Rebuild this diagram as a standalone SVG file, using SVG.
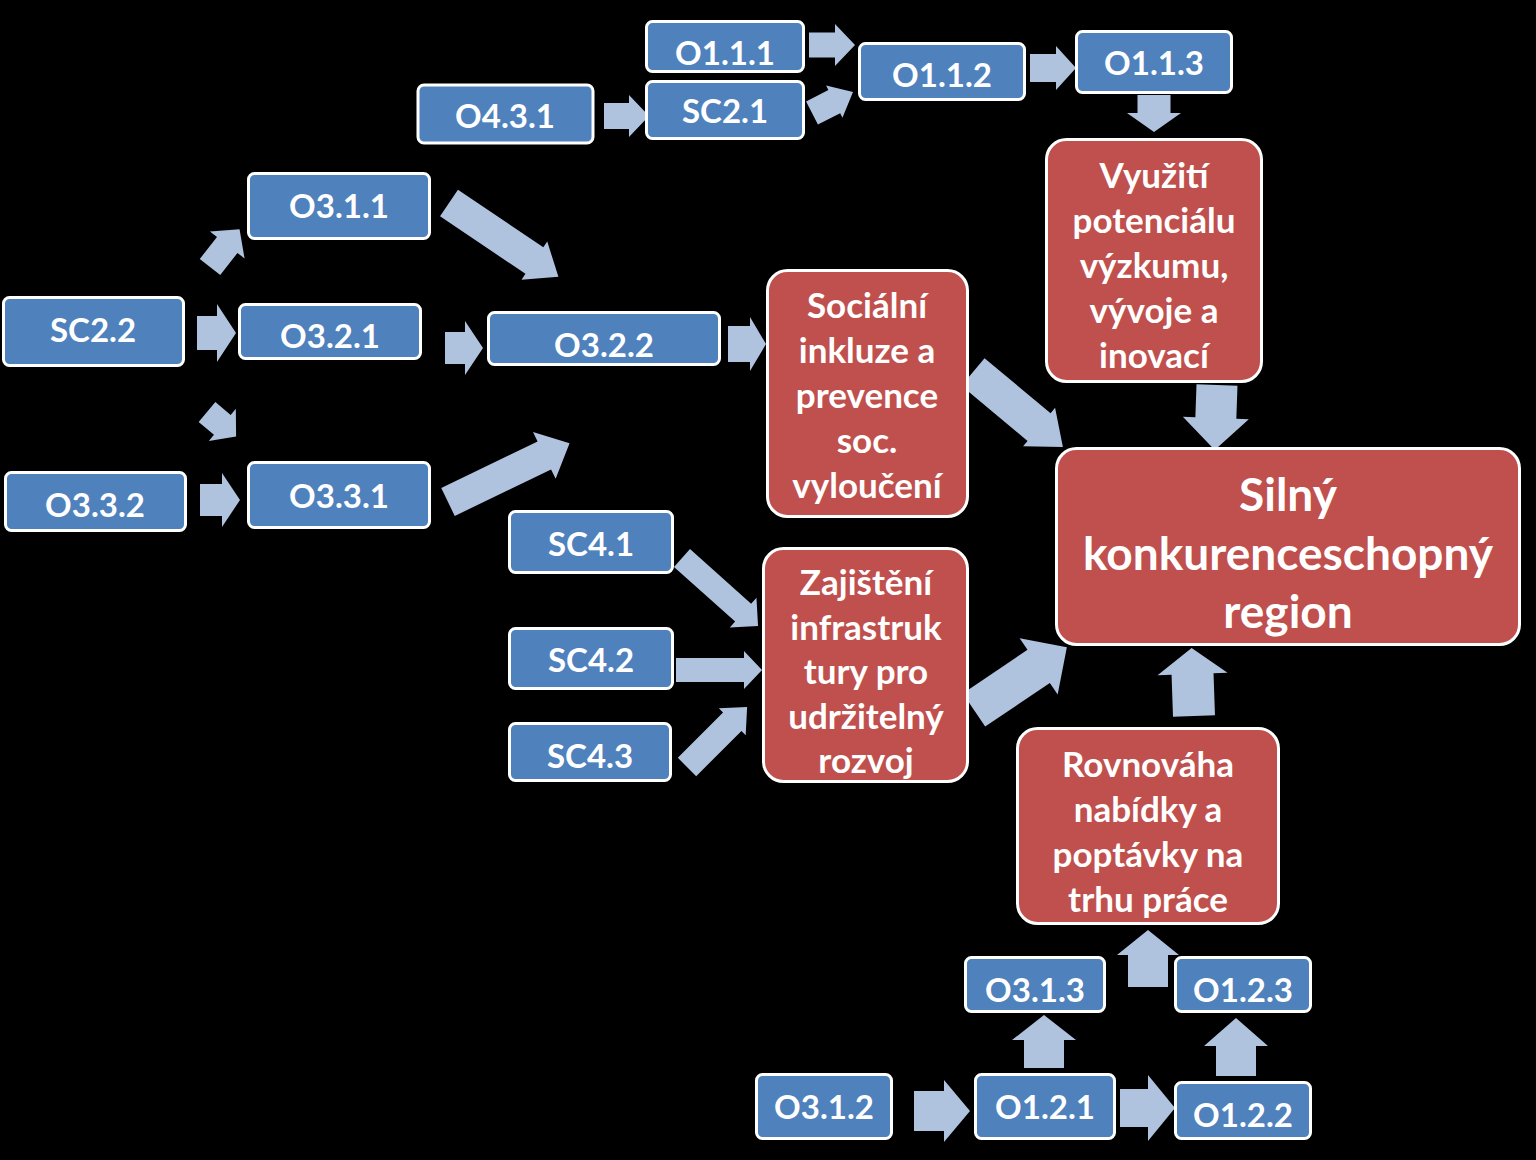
<svg xmlns="http://www.w3.org/2000/svg" width="1536" height="1160" viewBox="0 0 1536 1160">
<style>
.bg{fill:#000}
.b{fill:#4f81bd;stroke:#fff;stroke-width:3}
.r{fill:#c0504d;stroke:#fff;stroke-width:3}
.a{fill:#afc2de}
text{font-family:Lato,"Open Sans","Liberation Sans",sans-serif;font-weight:bold;fill:#fff;text-anchor:middle}
.t{font-size:33px}
.rt{font-size:35px}
.big{font-size:46px}
</style>
<rect class="bg" x="0" y="0" width="1536" height="1160"/>
<g id="connectors">
<polygon class="a" transform="translate(809,45)" points="0,-12.5 26,-12.5 26,-21 46,0 26,21 26,12.5 0,12.5"/>
<polygon class="a" transform="translate(812,113) rotate(-27)" points="0,-13 25,-13 25,-18 46,0 25,18 25,13 0,13"/>
<polygon class="a" transform="translate(604,116)" points="0,-13 25,-13 25,-21 45,0 25,21 25,13 0,13"/>
<polygon class="a" transform="translate(1030,68)" points="0,-14 26,-14 26,-22 46,0 26,22 26,14 0,14"/>
<polygon class="a" transform="translate(1154,95) rotate(90)" points="0,-16.5 18,-16.5 18,-27 37,0 18,27 18,16.5 0,16.5"/>
<polygon class="a" transform="translate(1217,385) rotate(92)" points="0,-20.5 33,-20.5 33,-33 65,0 33,33 33,20.5 0,20.5"/>
<polygon class="a" transform="translate(973,372) rotate(39.8)" points="0,-18 86,-18 86,-25 117,0 86,25 86,18 0,18"/>
<polygon class="a" transform="translate(974,710) rotate(-34)" points="0,-20 78,-20 78,-34 112,0 78,34 78,20 0,20"/>
<polygon class="a" transform="translate(1194,716) rotate(-92)" points="0,-21 42,-21 42,-35 68,0 42,35 42,21 0,21"/>
<polygon class="a" transform="translate(1148,987) rotate(-90)" points="0,-20 32,-20 32,-31 57,0 32,31 32,20 0,20"/>
<polygon class="a" transform="translate(1044,1068) rotate(-90)" points="0,-20 28,-20 28,-32 53,0 28,32 28,20 0,20"/>
<polygon class="a" transform="translate(1236,1076) rotate(-90)" points="0,-20 30,-20 30,-32 58,0 30,32 30,20 0,20"/>
<polygon class="a" transform="translate(914,1111)" points="0,-20 30,-20 30,-31 56,0 30,31 30,20 0,20"/>
<polygon class="a" transform="translate(1120,1108)" points="0,-19 28,-19 28,-33 55,0 28,33 28,19 0,19"/>
<polygon class="a" transform="translate(197,333)" points="0,-17 20,-17 20,-29 39,0 20,29 20,17 0,17"/>
<polygon class="a" transform="translate(445,348)" points="0,-16 20,-16 20,-27 38,0 20,27 20,16 0,16"/>
<polygon class="a" transform="translate(728,344)" points="0,-18 22,-18 22,-27 38,0 22,27 22,18 0,18"/>
<polygon class="a" transform="translate(200,500)" points="0,-16 22,-16 22,-27 40,0 22,27 22,16 0,16"/>
<polygon class="a" transform="translate(210,267) rotate(-52)" points="0,-13 28,-13 28,-22 48,0 28,22 28,13 0,13"/>
<polygon class="a" transform="translate(207,412) rotate(40)" points="0,-13 20,-13 20,-21 38,0 20,21 20,13 0,13"/>
<polygon class="a" transform="translate(449,203) rotate(34)" points="0,-16 103,-16 103,-23 132,0 103,23 103,16 0,16"/>
<polygon class="a" transform="translate(448,502) rotate(-25.8)" points="0,-15.5 107,-15.5 107,-26 135,0 107,26 107,15.5 0,15.5"/>
<polygon class="a" transform="translate(682,558) rotate(41.8)" points="0,-12 82,-12 82,-20 102,0 82,20 82,12 0,12"/>
<polygon class="a" transform="translate(676,670)" points="0,-12 68,-12 68,-19 86,0 68,19 68,12 0,12"/>
<polygon class="a" transform="translate(687,767) rotate(-45)" points="0,-13 64,-13 64,-19 85,0 64,19 64,13 0,13"/>
</g>
<g id="n-O111"><rect class="b" x="646.5" y="21.5" width="157" height="50" rx="6"/><text class="t" x="725" y="65">O1.1.1</text></g>
<g id="n-SC21"><rect class="b" x="646.5" y="81.5" width="157" height="57" rx="6"/><text class="t" x="725" y="123">SC2.1</text></g>
<g id="n-O431"><rect class="b" x="418" y="85" width="175" height="58" rx="6"/><text class="t" x="505" y="128">O4.3.1</text></g>
<g id="n-O112"><rect class="b" x="859.5" y="43.5" width="165" height="56" rx="6"/><text class="t" x="942" y="87">O1.1.2</text></g>
<g id="n-O113"><rect class="b" x="1076.5" y="31.5" width="155" height="61" rx="6"/><text class="t" x="1154" y="75">O1.1.3</text></g>
<g id="n-O311"><rect class="b" x="248.5" y="173.5" width="181" height="65" rx="6"/><text class="t" x="339" y="218">O3.1.1</text></g>
<g id="n-SC22"><rect class="b" x="3.5" y="297.5" width="180" height="68" rx="6"/><text class="t" x="93" y="342">SC2.2</text></g>
<g id="n-O321"><rect class="b" x="239.5" y="304.5" width="181" height="54" rx="6"/><text class="t" x="330" y="348">O3.2.1</text></g>
<g id="n-O322"><rect class="b" x="488.5" y="312.5" width="231" height="52" rx="6"/><text class="t" x="604" y="357">O3.2.2</text></g>
<g id="n-O332"><rect class="b" x="5.5" y="472.5" width="180" height="58" rx="6"/><text class="t" x="95" y="517">O3.3.2</text></g>
<g id="n-O331"><rect class="b" x="248.5" y="462.5" width="181" height="65" rx="6"/><text class="t" x="339" y="508">O3.3.1</text></g>
<g id="n-SC41"><rect class="b" x="509.5" y="511.5" width="163" height="61" rx="6"/><text class="t" x="591" y="556">SC4.1</text></g>
<g id="n-SC42"><rect class="b" x="509.5" y="628.5" width="163" height="60" rx="6"/><text class="t" x="591" y="672">SC4.2</text></g>
<g id="n-SC43"><rect class="b" x="509.5" y="723.5" width="161" height="57" rx="6"/><text class="t" x="590" y="768">SC4.3</text></g>
<g id="n-O313"><rect class="b" x="965.5" y="957.5" width="139" height="54" rx="6"/><text class="t" x="1035" y="1002">O3.1.3</text></g>
<g id="n-O123"><rect class="b" x="1175.5" y="957.5" width="135" height="54" rx="6"/><text class="t" x="1243" y="1002">O1.2.3</text></g>
<g id="n-O312"><rect class="b" x="756.5" y="1074.5" width="135" height="64" rx="6"/><text class="t" x="824" y="1119">O3.1.2</text></g>
<g id="n-O121"><rect class="b" x="975.5" y="1074.5" width="139" height="64" rx="6"/><text class="t" x="1045" y="1119">O1.2.1</text></g>
<g id="n-O122"><rect class="b" x="1175.5" y="1082.5" width="135" height="56" rx="6"/><text class="t" x="1243" y="1127">O1.2.2</text></g>
<g id="n-socialni"><rect class="r" x="767.5" y="270.5" width="200" height="246" rx="20"/><text class="rt" x="867"><tspan x="867" y="318">Sociální</tspan><tspan x="867" y="363">inkluze a</tspan><tspan x="867" y="408">prevence</tspan><tspan x="867" y="453">soc.</tspan><tspan x="867" y="498">vyloučení</tspan></text></g>
<g id="n-vyuziti"><rect class="r" x="1046.5" y="139.5" width="215" height="242" rx="20"/><text class="rt" x="1154"><tspan x="1154" y="188">Využití</tspan><tspan x="1154" y="233">potenciálu</tspan><tspan x="1154" y="278">výzkumu,</tspan><tspan x="1154" y="323">vývoje a</tspan><tspan x="1154" y="368">inovací</tspan></text></g>
<g id="n-silny"><rect class="r" x="1056.5" y="448.5" width="463" height="196" rx="20"/><text class="big" x="1288"><tspan x="1288" y="511">Silný</tspan><tspan x="1288" y="570">konkurenceschopný</tspan><tspan x="1288" y="628">region</tspan></text></g>
<g id="n-zajisteni"><rect class="r" x="763.5" y="548.5" width="204" height="233" rx="20"/><text class="rt" x="866"><tspan x="866" y="595">Zajištění</tspan><tspan x="866" y="640">infrastruk</tspan><tspan x="866" y="684">tury pro</tspan><tspan x="866" y="729">udržitelný</tspan><tspan x="866" y="773">rozvoj</tspan></text></g>
<g id="n-rovnovaha"><rect class="r" x="1017.5" y="728.5" width="261" height="195" rx="20"/><text class="rt" x="1148"><tspan x="1148" y="777">Rovnováha</tspan><tspan x="1148" y="822">nabídky a</tspan><tspan x="1148" y="867">poptávky na</tspan><tspan x="1148" y="912">trhu práce</tspan></text></g>
</svg>
